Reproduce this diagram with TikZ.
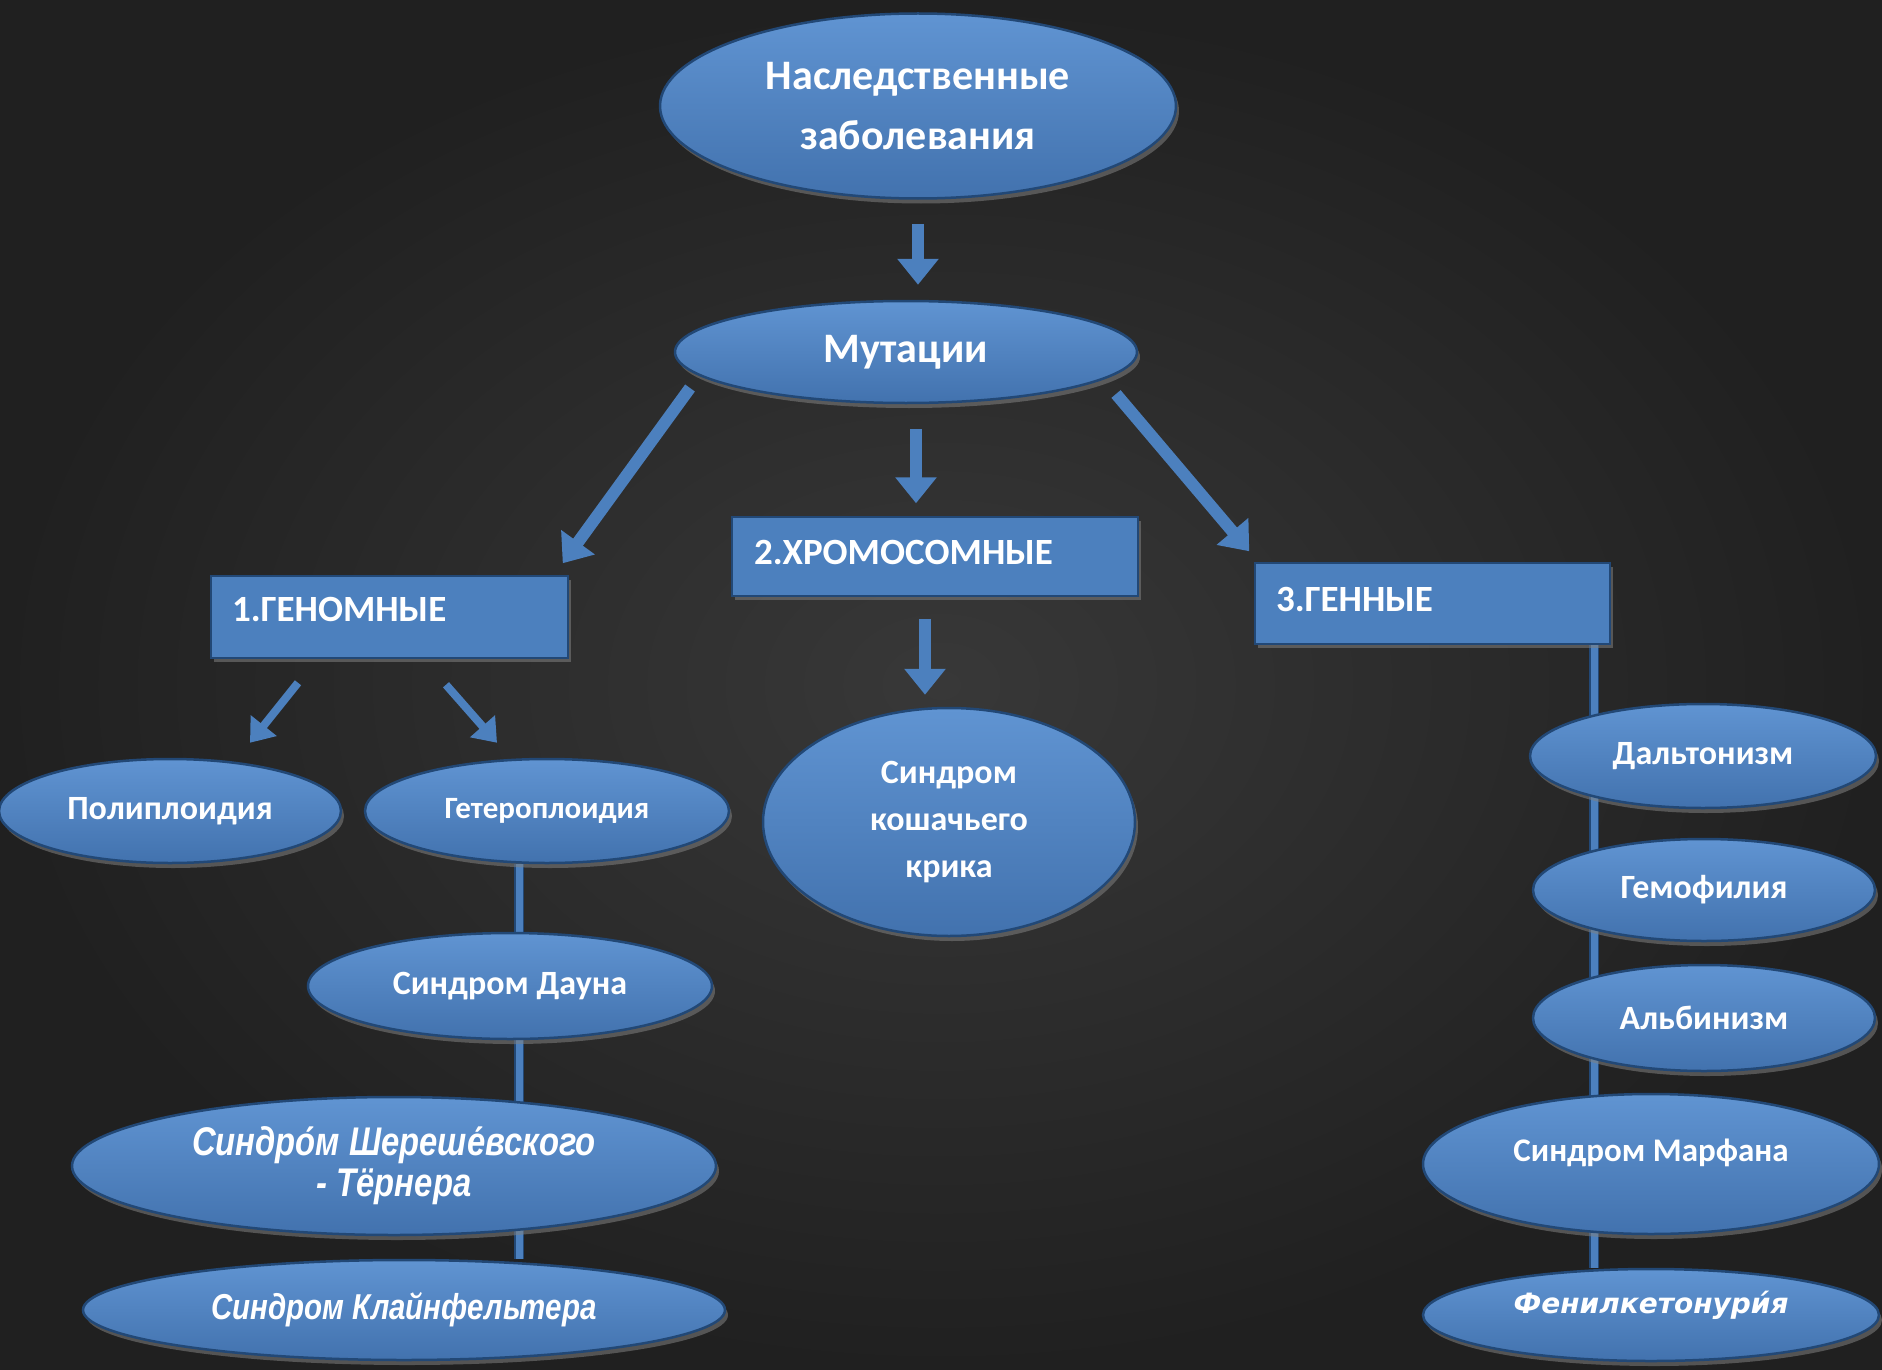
\documentclass[tikz,border=0pt]{standalone}
\usepackage{fontspec}
\setmainfont{Carlito}
\newfontfamily\narrowf{Liberation Sans}[FakeStretch=0.82]
\newfontfamily\verdf{DejaVu Sans}
\usetikzlibrary{shapes.geometric,arrows.meta,shadows,calc,backgrounds}
\definecolor{board}{RGB}{32,32,32}
\definecolor{boardc}{RGB}{56,56,56}
\definecolor{nblue}{RGB}{76,128,190}
\definecolor{nbluel}{RGB}{96,148,210}
\definecolor{nbluer}{RGB}{66,114,174}
\definecolor{nedge}{RGB}{34,72,118}
\newcommand\fsz[2]{\fontsize{#1pt}{#2pt}\selectfont}
\newcommand\upby[2]{\raisebox{#1}[\height][\depth]{#2}}
\pgfdeclarelayer{back}
\pgfdeclarelayer{lines}
\pgfsetlayers{back,lines,main}
\tikzset{
  oval/.style={ellipse, draw=nedge, line width=2.5pt, top color=nbluel, bottom color=nbluer,
    text=white, font=\bfseries, inner sep=0pt, align=center,
    drop shadow={opacity=0.55, shadow xshift=3pt, shadow yshift=-5pt}},
  catbox/.style={rectangle, draw=nedge, line width=1.5pt, fill=nblue, text=white,
    font=\bfseries\fsz{37}{44}, inner sep=0pt, align=left,
    drop shadow={opacity=0.55, shadow xshift=3pt, shadow yshift=-4pt}},
  barrow/.style={draw=nblue, line width=12pt, -{Triangle[length=26pt,width=40pt]}},
  sarrow/.style={draw=nblue, line width=8pt, -{Triangle[length=22pt,width=32pt]}},
  conn/.style={draw=nedge, line width=1.5pt, double=nblue, double distance=7pt},
}
\begin{document}
\begin{tikzpicture}[x=1pt,y=-1pt]
\useasboundingbox (0,0) rectangle (1882,1370);
\begin{pgfonlayer}{back}
\shade[inner color=boardc, outer color=board] (0,0) rectangle (1882,1370);
\end{pgfonlayer}

% top
\node[oval, minimum width=516pt, minimum height=185pt, font=\bfseries\fsz{42}{60}] (top) at (918,106) {Наследственные\\заболевания};
\node[oval, minimum width=462pt, minimum height=102pt, font=\bfseries\fsz{42}{50}] (mut) at (906,352) {Мутации};

% category boxes
\node[catbox, minimum width=357pt, minimum height=82pt, text width=315pt] (g1) at (389.5,617) {\upby{8pt}{1.ГЕНОМНЫЕ}};
\node[catbox, minimum width=406pt, minimum height=79pt, text width=362pt] (g2) at (935,556.5) {\upby{4.5pt}{2.ХРОМОСОМНЫЕ}};
\node[catbox, minimum width=355pt, minimum height=81pt, text width=313pt] (g3) at (1432.5,603.5) {\upby{4.5pt}{3.ГЕННЫЕ}};

% genomic
\node[oval, minimum width=342pt, minimum height=104pt, font=\bfseries\fsz{34}{40}] (poly) at (170,811) {Полиплоидия};
\node[oval, minimum width=364pt, minimum height=104pt, font=\bfseries\fsz{31}{36}] (het) at (547,811) {Гетероплоидия};
\node[oval, minimum width=404pt, minimum height=106pt, font=\bfseries\fsz{34}{40}] (dauna) at (510,986) {Синдром Дауна};
\node[oval, minimum width=644pt, minimum height=138pt, font=\narrowf\bfseries\itshape\fsz{40}{41}] (sher) at (394,1166) {Синдро́м Шереше́вского\\- Тёрнера};
\node[oval, minimum width=642pt, minimum height=100pt, font=\narrowf\bfseries\itshape\fsz{36}{42}] (klein) at (404,1310) {Синдром Клайнфельтера};

% chromosomal
\node[oval, minimum width=372pt, minimum height=228pt, font=\bfseries\fsz{34}{47}] (cat) at (949,822) {Синдром\\кошачьего\\крика};

% gene
\node[oval, minimum width=346pt, minimum height=104pt, font=\bfseries\fsz{34}{40}] (dalt) at (1703,756) {Дальтонизм};
\node[oval, minimum width=342pt, minimum height=102pt, font=\bfseries\fsz{34}{40}] (gemo) at (1704,890) {Гемофилия};
\node[oval, minimum width=342pt, minimum height=106pt, font=\bfseries\fsz{34}{40}] (albi) at (1704,1018) {Альбинизм};
\node[oval, minimum width=456pt, minimum height=140pt, font=\bfseries\fsz{33}{40}] (marf) at (1651,1164) {\upby{11pt}{Синдром Марфана}};
\node[oval, minimum width=456pt, minimum height=92pt, font=\verdf\bfseries\itshape\fsz{28}{32}] (fen) at (1651,1315) {\upby{10pt}{Фенилкетонури́я}};

% arrows
\draw[barrow, shorten <=24pt, shorten >=15pt] (top.south) -- (top.south |- mut.north);
\draw[barrow] ($(mut.center)+(-216,36)$) -- ($(g1.north east)+(-6,-12)$);
\draw[barrow, shorten <=25pt, shorten >=13pt] ($(mut.south)+(10,0)$) -- ($(mut.south |- g2.north)+(10,0)$);
\draw[barrow] ($(mut.center)+(210,42)$) -- ($(g3.north west)+(-5,-11)$);
\draw[sarrow] ($(g1.south)+(-91.5,24)$) -- ($(poly.north)+(80,-15)$);
\draw[sarrow] ($(g1.south)+(56.5,26)$) -- ($(het.north)+(-50,-15)$);
\draw[barrow, shorten <=22pt, shorten >=12pt] ($(g2.south)+(-10,0)$) -- ($(g2.south |- cat.north)+(-10,0)$);

% connector lines
\coordinate (lx) at (519,0);
\coordinate (rx) at (1594,0);
\begin{pgfonlayer}{lines}
\draw[conn] (het.south -| lx) -- (klein.north -| lx);
\draw[conn] (g3.south -| rx) -- (fen.north -| rx);
\end{pgfonlayer}
\end{tikzpicture}
\end{document}
